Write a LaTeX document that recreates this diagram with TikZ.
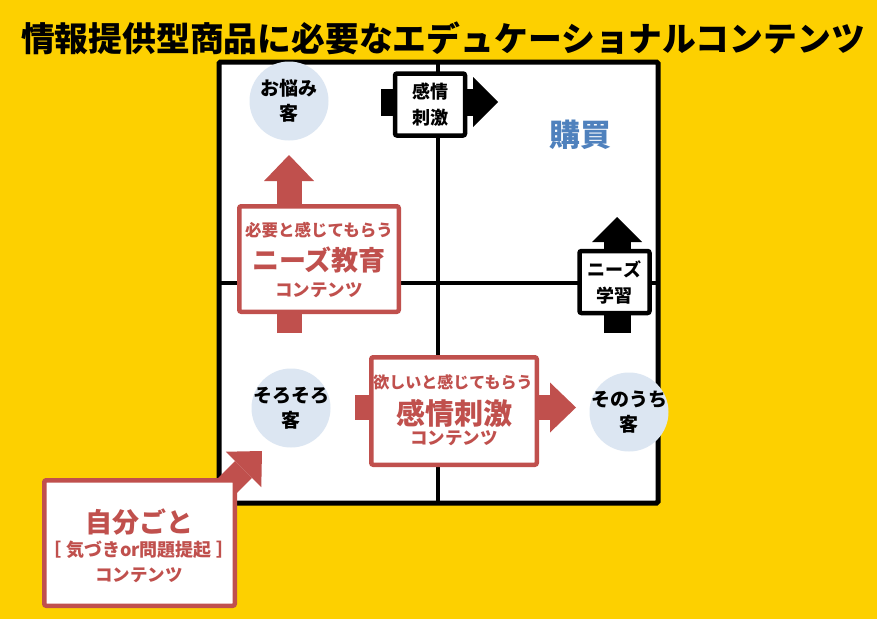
\documentclass[tikz,border=0pt]{standalone}
\usepackage{fontspec}
\setmainfont{Noto Sans CJK JP}
\usepackage{tikz}
\usetikzlibrary{arrows.meta}
\definecolor{bgyellow}{RGB}{253,208,0}
\definecolor{boxred}{RGB}{192,80,77}
\definecolor{clientblue}{RGB}{220,230,242}
\definecolor{buyblue}{RGB}{79,129,189}
\tikzset{
    outerframe/.style={draw=black,fill=white,line width=5pt,rounded corners=1.5pt},
    midline/.style={black,line width=4.5pt},
    client/.style={circle,fill=clientblue,minimum size=79pt,inner sep=-8pt,align=center,font=\fontsize{19}{25}\selectfont\bfseries},
    blackbox/.style={draw=black,fill=white,line width=4.5pt,rounded corners=2pt,inner sep=0pt,minimum width=70pt,minimum height=62pt,align=center,font=\fontsize{18}{26}\selectfont\bfseries},
    redbox/.style={draw=boxred,fill=white,line width=4.5pt,rounded corners=2pt,inner sep=0pt},
    redsmall/.style={text=boxred,inner sep=0pt,font=\fontsize{16.5}{18}\selectfont\bfseries},
    redbig/.style={text=boxred,inner sep=0pt,font=\fontsize{27}{30}\selectfont\bfseries},
    blackarrow/.style={draw=black,line width=27pt,-{Triangle[width=50pt,length=25pt,line width=0pt]}},
    redarrow/.style={draw=boxred,line width=25pt,-{Triangle[width=50pt,length=26pt,line width=0pt]}}
}
\begin{document}
\begin{tikzpicture}[x=1pt,y=-1pt]
\useasboundingbox[fill=bgyellow](0,0)rectangle(877,619);
\node[inner sep=0pt,font=\fontsize{33.8}{36}\selectfont\bfseries] (title) at (443,38) {情報提供型商品に必要なエデュケーショナルコンテンツ};

% matrix
\draw[outerframe](219,62)rectangle(658,503);
\draw[midline](438,62)--(438,503);
\draw[midline](219,283)--(658,283);

% black arrows
\coordinate (impstart) at (381,102);
\coordinate (imptip) at (498,102);
\coordinate (learnstart) at (617,333);
\coordinate (learntip) at (617,217);
\draw[blackarrow](impstart)--(imptip);
\draw[blackarrow](learnstart)--(learntip);
\node[blackbox] (impbox) at (430,104.5) {感情\\刺激};
\node[blackbox] (learnbox) at (614.5,282) {ニーズ\\学習};

% red arrows
\coordinate (edustart) at (289,333);
\coordinate (edutip) at (289,155);
\coordinate (emostart) at (355,407.5);
\coordinate (emotip) at (576,407.5);
\coordinate (ownstart) at (190,523);
\coordinate (owntip) at (262,451);
\draw[redarrow](edustart)--(edutip);
\draw[redarrow](emostart)--(emotip);
\draw[redarrow,line width=24pt](ownstart)--(owntip);

\node[redbox,minimum width=159.5pt,minimum height=105.5pt] (edubox) at (319,259) {};
\node[redsmall] (edu1) at (319,230) {必要と感じてもらう};
\node[redbig] (edu2) at (319,260) {ニーズ教育};
\node[redsmall,font=\fontsize{17.5}{18}\selectfont\bfseries] (edu3) at (319,290) {コンテンツ};

\node[redbox,minimum width=165.5pt,minimum height=107.5pt] (emobox) at (454,411) {};
\node[redsmall,font=\fontsize{16}{18}\selectfont\bfseries] (emo1) at (453,382) {欲しいと感じてもらう};
\node[redbig,font=\fontsize{29}{30}\selectfont\bfseries] (emo2) at (454,413) {感情刺激};
\node[redsmall,font=\fontsize{17.5}{18}\selectfont\bfseries] (emo3) at (454,438) {コンテンツ};

\node[redbox,minimum width=190.5pt,minimum height=125.5pt] (ownbox) at (139.5,543) {};
\node[redbig,font=\fontsize{27}{30}\selectfont\bfseries] (own1) at (139,522) {自分ごと};
\node[redsmall,font=\fontsize{18}{18}\selectfont\bfseries] (own2) at (139,550) {［\hspace{5pt}気づきor問題提起\hspace{5pt}］};
\node[redsmall,font=\fontsize{17.5}{18}\selectfont\bfseries] (own3) at (139,575) {コンテンツ};

% customers
\node[client] (worry) at (289,101) {お悩み\\客};
\node[client] (soon) at (291,408) {そろそろ\\客};
\node[client] (later) at (629,412) {そのうち\\客};
\node[text=buyblue,font=\fontsize{31}{32}\selectfont\bfseries] (buy) at (580,135) {購買};
\end{tikzpicture}
\end{document}
